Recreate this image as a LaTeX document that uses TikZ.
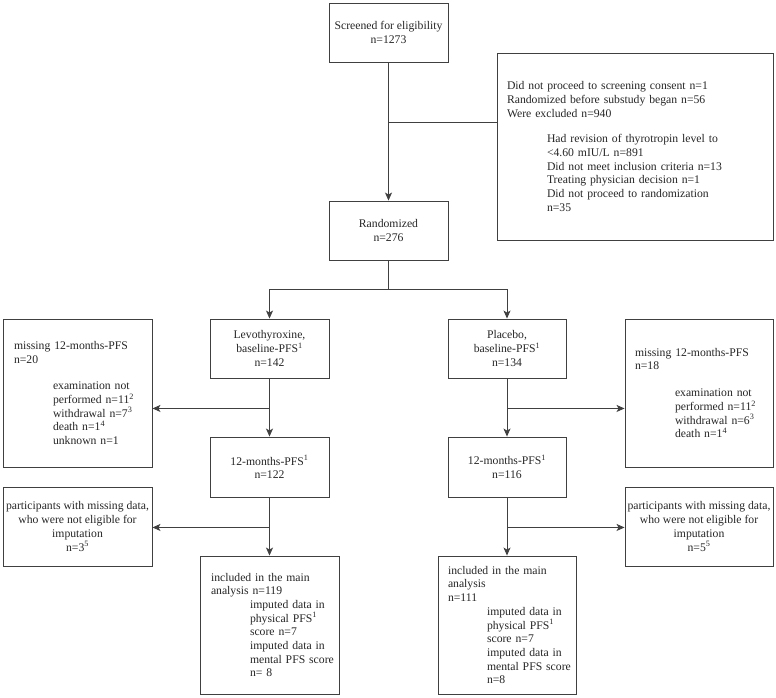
\documentclass[tikz,border=0pt]{standalone}
\usepackage{fontspec}
\setmainfont{Liberation Serif}
\usetikzlibrary{arrows.meta}
\definecolor{linegray}{HTML}{404040}
\definecolor{textgray}{HTML}{262626}
\tikzset{
	box/.style = {draw = linegray, line width = 0.9pt, inner sep = 0pt, text = textgray,
		font = \fontsize{11.7}{13.7}\selectfont},
	cbox/.style = {box, align = center},
	lbox/.style = {box, align = left},
	conn/.style = {draw = linegray, line width = 0.9pt},
	arr/.style = {conn, -{Stealth[length = 8pt, width = 7pt, inset = 2pt]}}
}
\newcommand{\ind}{\hspace*{40pt}}
\begin{document}
\begin{tikzpicture}[x = 1pt, y = -1pt]
	\useasboundingbox (0, 0) rectangle (776, 697);
	% screening and exclusion
	\node[cbox, minimum width = 119pt, minimum height = 59pt] (scr) at (388.5, 32.5)
		{Screened for eligibility\\n=1273};
	\node[lbox, minimum width = 276pt, minimum height = 187pt, inner xsep = 10pt, text width = 256pt] (excl) at (635, 146.5)
		{Did not proceed to screening consent n=1\\
		Randomized before substudy began n=56\\
		Were excluded n=940\\[12pt]
		\ind Had revision of thyrotropin level to\\
		\ind <4.60 mIU/L n=891\\
		\ind Did not meet inclusion criteria n=13\\
		\ind Treating physician decision n=1\\
		\ind Did not proceed to randomization\\
		\ind n=35};
	\node[cbox, minimum width = 119pt, minimum height = 59pt] (rnd) at (388.5, 230.5)
		{Randomized\\n=276};
	% the two arms
	\node[cbox, minimum width = 119pt, minimum height = 59pt] (levo) at (269.5, 348.5)
		{Levothyroxine,\\baseline-PFS\textsuperscript{1}\\n=142};
	\node[cbox, minimum width = 118pt, minimum height = 59pt] (plc) at (507, 348.5)
		{Placebo,\\baseline-PFS\textsuperscript{1}\\n=134};
	% missing at 12 months
	\node[lbox, minimum width = 149pt, minimum height = 148pt, inner xsep = 11pt, text width = 127pt] (missl) at (77.5, 393)
		{missing 12-months-PFS\\
		n=20\\[13pt]
		\hspace*{39pt}examination not\\
		\hspace*{39pt}performed n=11\textsuperscript{2}\\
		\hspace*{39pt}withdrawal n=7\textsuperscript{3}\\
		\hspace*{39pt}death n=1\textsuperscript{4}\\
		\hspace*{39pt}unknown n=1};
	\node[lbox, minimum width = 148pt, minimum height = 148pt, inner xsep = 10pt, text width = 128pt] (missr) at (699, 393)
		{missing 12-months-PFS\\
		n=18\\[13pt]
		\ind examination not\\
		\ind performed n=11\textsuperscript{2}\\
		\ind withdrawal n=6\textsuperscript{3}\\
		\ind death n=1\textsuperscript{4}};
	% 12 months
	\node[cbox, minimum width = 119pt, minimum height = 60pt] (mol) at (269.5, 467)
		{12-months-PFS\textsuperscript{1}\\n=122};
	\node[cbox, minimum width = 118pt, minimum height = 60pt] (mor) at (507, 467)
		{12-months-PFS\textsuperscript{1}\\n=116};
	% not eligible for imputation
	\node[cbox, minimum width = 149pt, minimum height = 79pt] (partl) at (77.5, 526.5)
		{participants with missing data,\\who were not eligible for\\imputation\\n=3\textsuperscript{5}};
	\node[cbox, minimum width = 148pt, minimum height = 79pt] (partr) at (699, 526.5)
		{participants with missing data,\\who were not eligible for\\imputation\\n=5\textsuperscript{5}};
	% main analysis
	\node[lbox, minimum width = 139pt, minimum height = 138pt, inner xsep = 11pt, text width = 117pt] (incl) at (269.5, 625)
		{included in the main\\
		analysis n=119\\
		\hspace*{39pt}imputed data in\\
		\hspace*{39pt}physical PFS\textsuperscript{1}\\
		\hspace*{39pt}score n=7\\
		\hspace*{39pt}imputed data in\\
		\hspace*{39pt}\mbox{mental PFS score}\\
		\hspace*{39pt}n= 8};
	\node[lbox, minimum width = 138pt, minimum height = 138pt, inner xsep = 10pt, text width = 118pt] (incr) at (507, 625)
		{included in the main\\
		analysis\\
		n=111\\
		\hspace*{39pt}imputed data in\\
		\hspace*{39pt}physical PFS\textsuperscript{1}\\
		\hspace*{39pt}score n=7\\
		\hspace*{39pt}imputed data in\\
		\hspace*{39pt}\mbox{mental PFS score}\\
		\hspace*{39pt}n=8};
	% connectors
	\coordinate (exj) at (388.5, 122);
	\draw[arr] (scr) -- (rnd);
	\draw[conn] (exj -| excl.west) -- (exj);
	\draw[conn] (rnd.south) -- ++(0, 29) coordinate (split);
	\draw[arr] (split) -| (levo.north);
	\draw[arr] (split) -| (plc.north);
	\draw[arr] (levo) -- (mol);
	\draw[arr] (plc) -- (mor);
	\draw[arr] (mol) -- (incl);
	\draw[arr] (mor) -- (incr);
	% side branches
	\path (levo.south) ++(0, 30) coordinate (bl);
	\path (plc.south) ++(0, 30) coordinate (br);
	\path (mol.south) ++(0, 30) coordinate (ml);
	\path (mor.south) ++(0, 30) coordinate (mr);
	\draw[arr] (bl) -- (bl -| missl.east);
	\draw[arr] (br) -- (br -| missr.west);
	\draw[arr] (ml) -- (ml -| partl.east);
	\draw[arr] (mr) -- (mr -| partr.west);
\end{tikzpicture}
\end{document}
